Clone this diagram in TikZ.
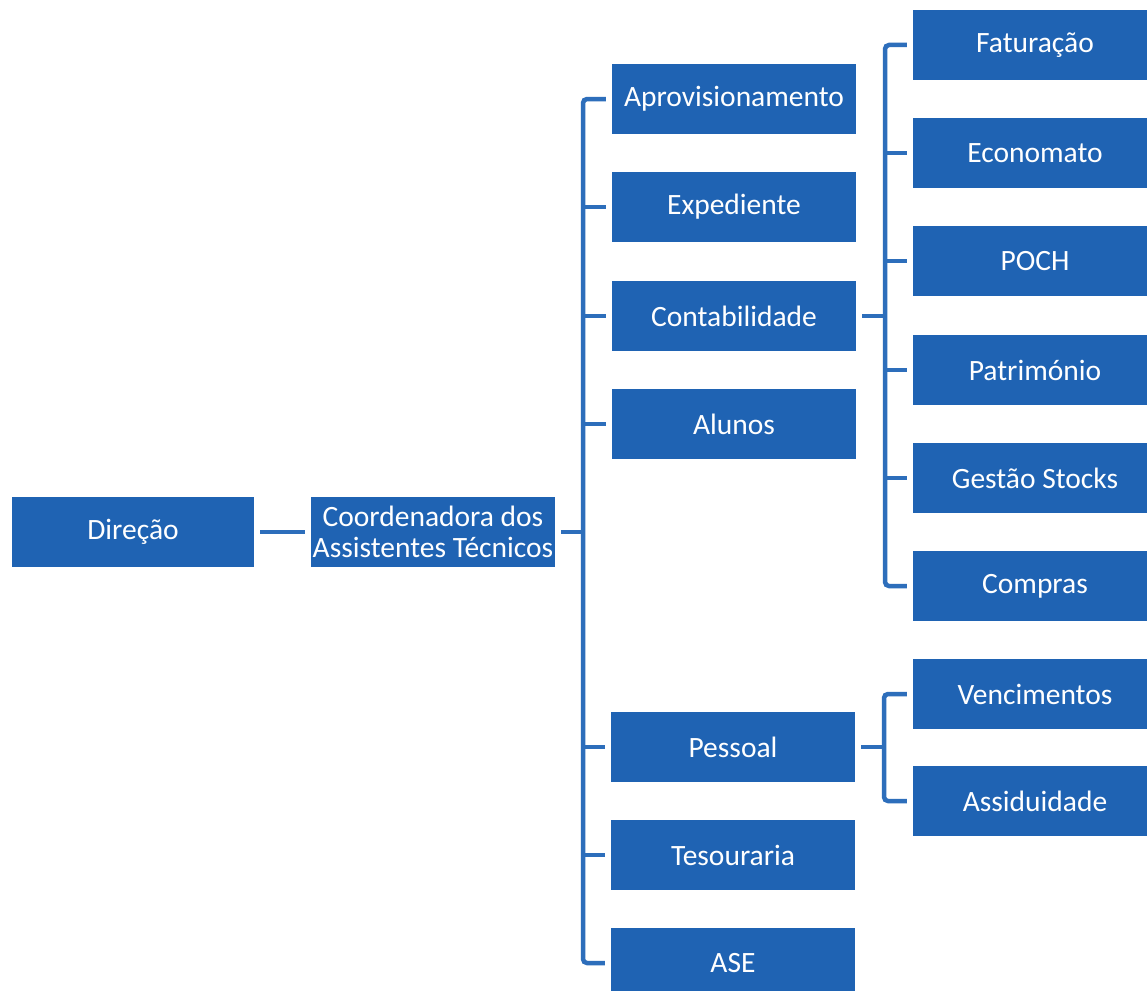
\documentclass[tikz,border=0pt]{standalone}
\usepackage{fontspec}
\setmainfont{Carlito}
\definecolor{boxblue}{RGB}{31,99,179}
\definecolor{lineblue}{RGB}{45,110,187}
\begin{document}
\begin{tikzpicture}[x=1pt,y=-1pt,
  unit/.style={fill=boxblue,text=white,minimum width=244pt,minimum height=70pt,inner sep=0pt,
    align=center,font=\fontsize{29.5}{32}\selectfont},
  link/.style={draw=lineblue,line width=4.5pt,rounded corners=4pt}]
\useasboundingbox (0,0) rectangle (1147,990);
\clip (0,0) rectangle (1147,990);
\fill[white] (0,0) rectangle (1147,990);
% left
\node[unit,minimum width=242pt] (dir) at (133,532) {Direção};
\node[unit] (coord) at (433,532) {Coordenadora dos\\[-1pt]Assistentes Técnicos};
% middle column
\node[unit] (apro) at (734,99) {Aprovisionamento};
\node[unit] (exp) at (734,207) {Expediente};
\node[unit] (cont) at (734,316) {Contabilidade};
\node[unit] (alu) at (734,424) {Alunos};
\node[unit] (pess) at (733,747) {Pessoal};
\node[unit] (tes) at (733,855) {Tesouraria};
\node[unit] (ase) at (733,963) {ASE};
% right column
\node[unit] (fat) at (1035,45) {Faturação};
\node[unit] (eco) at (1035,153) {Economato};
\node[unit] (poch) at (1035,261) {POCH};
\node[unit] (pat) at (1035,370) {Património};
\node[unit] (ges) at (1035,478) {Gestão Stocks};
\node[unit] (comp) at (1035,586) {Compras};
\node[unit] (ven) at (1035,694) {Vencimentos};
\node[unit] (ass) at (1035,801) {Assiduidade};
% connectors
\coordinate (spine) at (583,532);
\coordinate (cspine) at (885,316);
\coordinate (pspine) at (884,747);
\draw[link] ([xshift=6pt]dir.east) -- ([xshift=-6pt]coord.west);
\draw[link] ([xshift=6pt]coord.east) -- (coord.east -| spine);
\draw[link] ([xshift=-6pt]apro.west) -| (spine) |- ([xshift=-6pt]ase.west);
\foreach \n in {exp,cont,alu,pess,tes}
  \draw[link,rounded corners=0pt] ([xshift=-6pt]\n.west) -- (\n.west -| spine);
\draw[link] ([xshift=6pt]cont.east) -- (cspine);
\draw[link] ([xshift=-6pt]fat.west) -| (cspine) |- ([xshift=-6pt]comp.west);
\foreach \n in {eco,poch,pat,ges}
  \draw[link,rounded corners=0pt] ([xshift=-6pt]\n.west) -- (\n.west -| cspine);
\draw[link] ([xshift=6pt]pess.east) -- (pspine);
\draw[link] ([xshift=-6pt]ven.west) -| (pspine) |- ([xshift=-6pt]ass.west);
\end{tikzpicture}
\end{document}
